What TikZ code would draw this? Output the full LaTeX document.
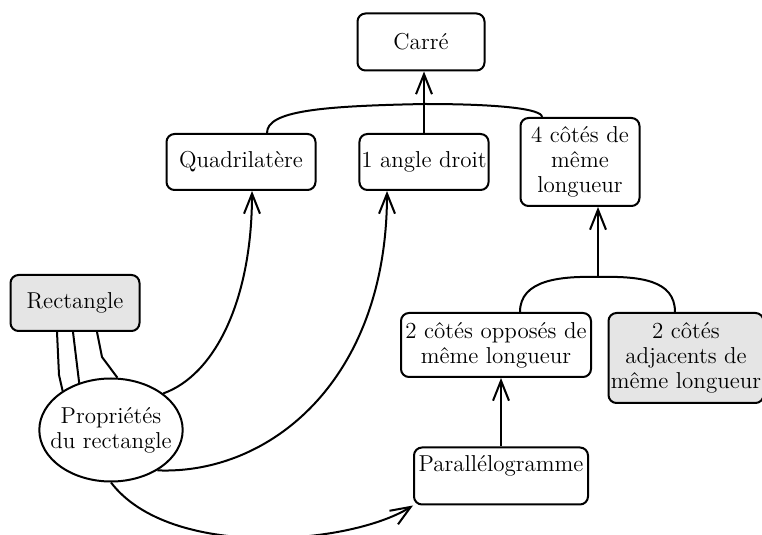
\documentclass[tikz,border=0pt]{standalone}
\usepackage{fontspec}
\usetikzlibrary{arrows.meta,shapes.geometric}
\begin{document}
\begin{tikzpicture}[x=0.5pt, y=-0.5pt,
    font=\fontsize{11.5}{12.5}\selectfont,
    box/.style={draw, line width=1pt, rounded corners=4pt, align=center, inner sep=1pt},
    shaded/.style={box, fill=gray!20},
    link/.style={line width=1pt},
    >={Straight Barb[length=10pt,width=8pt,line width=1pt]}]
    \useasboundingbox (0,0) rectangle (762,535);
    % Boxes
    \node[box, minimum width=63.5pt, minimum height=28.5pt] (carre) at (421,42) {Carré};
    \node[box, minimum width=74.5pt, minimum height=28pt] (quad) at (241,162) {Quadrilatère};
    \node[box, minimum width=63.5pt, minimum height=28pt] (droit) at (424,162) {1 angle droit};
    \node[box, minimum width=59.5pt, minimum height=44pt] (cote4) at (580,162) {4 côtés de\\même\\longueur};
    \node[shaded, minimum width=64.5pt, minimum height=28pt] (rect) at (75,303) {Rectangle};
    \node[draw, line width=1pt, ellipse, align=center, inner xsep=-5pt, inner ysep=0pt,
          minimum width=71.5pt, minimum height=51.5pt] (prop) at (111,430) {Propriétés\\du rectangle};
    \node[box, minimum width=95pt, minimum height=32pt] (opp) at (496,345) {2 côtés opposés de\\même longueur};
    \node[shaded, minimum width=77.5pt, minimum height=45pt] (adj) at (686,358) {2 côtés\\adjacents de\\même longueur};
    \node[box, minimum width=87pt, minimum height=28.5pt] (para) at (501,476) {Parallélogramme\\\mbox{}};
    % Junctions
    \coordinate (j1) at (425,104);
    \coordinate (j2) at (598,277);
    % Towards the square
    \draw[link, ->] (droit.north) -- (droit.north |- carre.south);
    \draw[link] ([xshift=13pt]quad.north) .. controls +(0,-22) and (320,106) .. (j1);
    \draw[link] ([xshift=-19pt]cote4.north) .. controls +(0,-8) and (500,104) .. (j1);
    % Towards 4 sides of the same length
    \draw[link, ->] (j2) -- (j2 |- cote4.south);
    \draw[link] ([xshift=12pt]opp.north) .. controls +(0,-32) and (560,276) .. (j2);
    \draw[link] ([xshift=-5.5pt]adj.north) .. controls +(0,-32) and (640,276) .. (j2);
    \draw[link, ->] (para.north) -- (para.north |- opp.south);
    % Rectangle to its properties
    \draw[link] ([xshift=-9pt]rect.south) -- (59,375) -- (prop.141);
    \draw[link] ([xshift=-1pt]rect.south) -- (prop.124);
    \draw[link] ([xshift=11pt]rect.south) -- (102,357) -- (prop.83);
    % Properties to the other figures
    \draw[link, ->] (prop.35) .. controls (215,375) and (252,300) .. ([xshift=5.5pt]quad.south);
    \draw[link, ->] (prop.-41) .. controls (270,475) and (387,380) .. ([xshift=-18.5pt]droit.south);
    \draw[link, ->] (prop.south) .. controls (170,560) and (350,545) .. (para.south west);
\end{tikzpicture}
\end{document}
